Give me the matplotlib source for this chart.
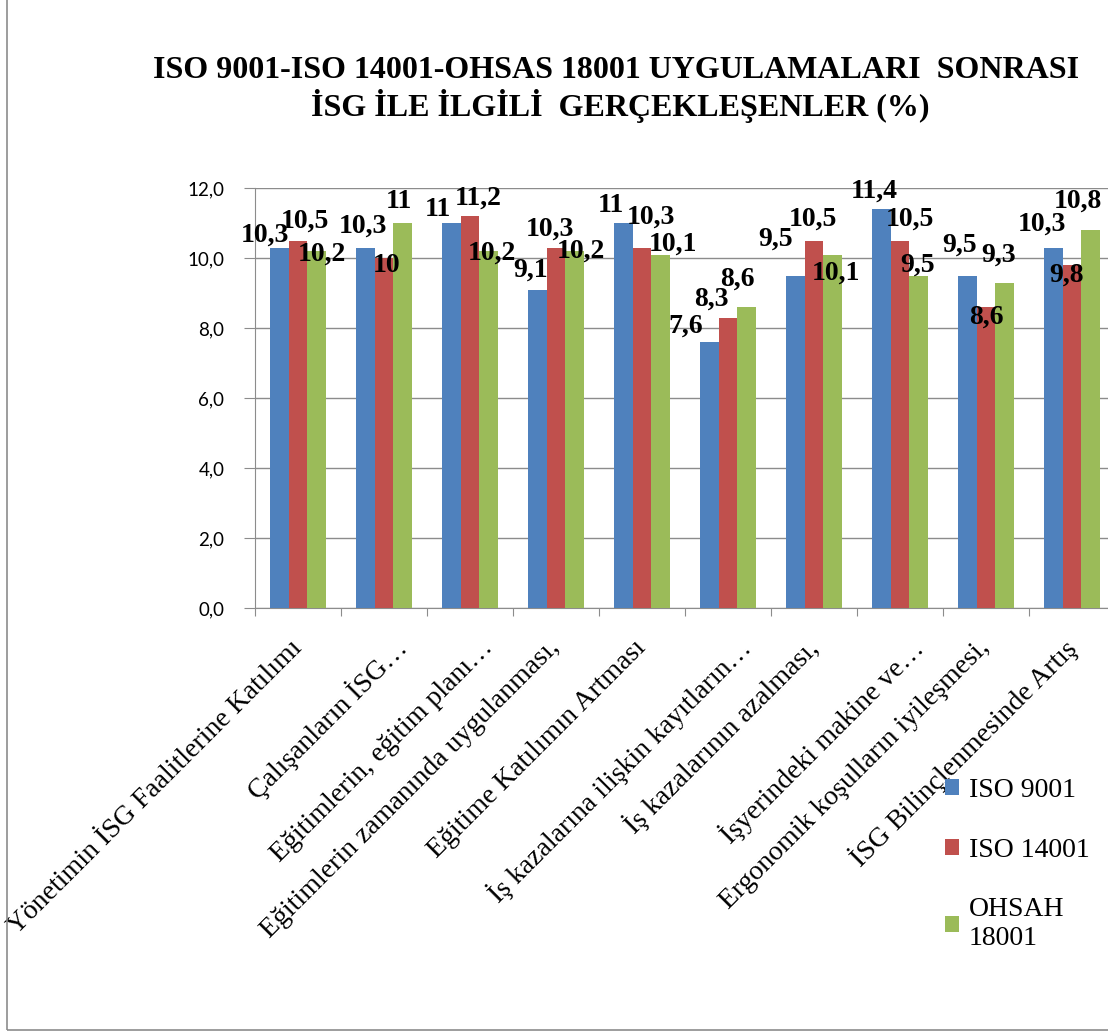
import numpy as np
import matplotlib.pyplot as plt
from matplotlib.patches import Rectangle

# data
categories = [
    "Yönetimin İSG Faalitlerine Katılımı",
    "Çalışanların İSG…",
    "Eğitimlerin, eğitim planı…",
    "Eğitimlerin zamanında uygulanması,",
    "Eğitime Katılımın Artması",
    "İş kazalarına ilişkin kayıtların…",
    "İş kazalarının azalması,",
    "İşyerindeki makine ve…",
    "Ergonomik koşulların iyileşmesi,",
    "İSG Bilinçlenmesinde Artış",
]
series_names = ["ISO 9001", "ISO 14001", "OHSAH\n18001"]
iso9001 = [10.3, 10.3, 11, 9.1, 11, 7.6, 9.5, 11.4, 9.5, 10.3]
iso14001 = [10.5, 10, 11.2, 10.3, 10.3, 8.3, 10.5, 10.5, 8.6, 9.8]
ohsas18001 = [10.2, 11, 10.2, 10.2, 10.1, 8.6, 10.1, 9.5, 9.3, 10.8]
yticks = [0, 2, 4, 6, 8, 10, 12]

colors = ["#4F81BD", "#C0504D", "#9BBB59"]

# label nudges in pixels (dx, dy) relative to bar top, like Excel's placement
label_nudge = [
    [(-14, 12), (7, 19), (5, -3)],
    [(-2, 21), (3, -8), (-4, 21)],
    [(-13, 13), (8, 18), (3, -2)],
    [(-7, 19), (-6, 18), (6, 0)],
    [(-12, 18), (9, 30), (12, 10)],
    [(-23, 16), (-17, 18), (-10, 28)],
    [(-20, 36), (-1, 21), (3, -19)],
    [(-7, 18), (10, 21), (-1, 10)],
    [(-8, 30), (0, -10), (-6, 27)],
    [(-11, 23), (-6, -10), (-13, 29)],
]

W, H = 1108, 1032
fig = plt.figure(figsize=(W / 100, H / 100), dpi=100)
fig.patch.set_facecolor("white")

# outer chart frame (cropped at top and right)
fig.patches.append(Rectangle((7 / W, 2 / H), 1.2, 1.2, transform=fig.transFigure,
                             fill=False, edgecolor="#8c8c8c", linewidth=1.2))

ax = fig.add_axes([255 / W, (H - 608) / H, 860 / W, 420 / H])

x = np.arange(len(categories)) + 0.5
bw = 0.22
all_series = [iso9001, iso14001, ohsas18001]
for i, vals in enumerate(all_series):
    xs = x + (i - 1) * bw
    ax.bar(xs, vals, width=bw, color=colors[i], label=series_names[i], zorder=3)
    for j, v in enumerate(vals):
        dx, dy = label_nudge[j][i]
        txt = ("%g" % v).replace(".", ",")
        ax.annotate(txt, (xs[j], v), xytext=(dx, dy), textcoords="offset pixels",
                    ha="center", va="center", fontsize=20, fontweight="bold",
                    family="Liberation Serif", zorder=5, annotation_clip=False)

ax.set_xlim(0, 10)
ax.set_ylim(0, 12)
ax.set_yticks(yticks)
ax.set_yticklabels([("%.1f" % t).replace(".", ",") for t in yticks],
                   family="Lato", fontsize=13.5)
ax.yaxis.grid(True, color="#8c8c8c", linewidth=1, zorder=0)

ax.set_xticks(np.arange(11))
ax.set_xticklabels([])
ax.tick_params(axis="x", length=6, color="#8c8c8c", direction="out")
ax.tick_params(axis="y", length=8, color="#8c8c8c", direction="out", pad=14)

# rotated category labels; truncated ones sit a bit further right, as in Excel
for j, cat in enumerate(categories):
    shift = 19 if cat.endswith("…") else 0
    ax.annotate(cat, (x[j], 0), xytext=(shift, -36), textcoords="offset pixels",
                rotation=45, ha="right", va="center", rotation_mode="anchor",
                family="Liberation Serif", fontsize=20, annotation_clip=False)

for s in ["top", "right"]:
    ax.spines[s].set_visible(False)
ax.spines["left"].set_color("#8c8c8c")
ax.spines["bottom"].set_color("#8c8c8c")

fig.text(616 / W, 1 - 70 / H, "ISO 9001-ISO 14001-OHSAS 18001 UYGULAMALARI  SONRASI",
         ha="center", va="center", family="Liberation Serif", fontweight="bold",
         fontsize=23)
fig.text(620 / W, 1 - 106 / H, "İSG İLE İLGİLİ  GERÇEKLEŞENLER (%)",
         ha="center", va="center", family="Liberation Serif", fontweight="bold",
         fontsize=23)

leg = fig.legend(loc="upper left", bbox_to_anchor=(920 / W, 1 - 753 / H),
                 frameon=False, prop={"family": "Liberation Serif", "size": 20},
                 handlelength=0.5, handleheight=0.5, handletextpad=0.35,
                 labelspacing=1.25)

fig.savefig("out.png", dpi=100)
